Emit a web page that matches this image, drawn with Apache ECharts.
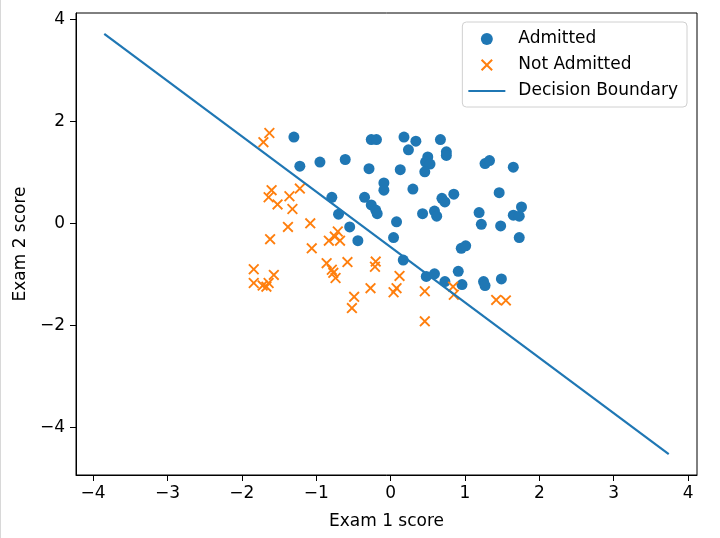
<!DOCTYPE html>
<html>
<head>
<meta charset="utf-8">
<script src="https://cdn.jsdelivr.net/npm/echarts@6/dist/echarts.min.js"></script>
<style>
html,body{margin:0;padding:0;background:#fff;}
#chart{width:720px;height:538px;}
</style>
</head>
<body>
<div id="chart"></div>
<script>
// Admitted (blue circles)
const admittedX = [-1.30,-0.26,-0.19,0.18,0.24,-1.22,-0.95,-0.61,-0.29,0.13,-0.09,-0.09,0.30,-0.79,-0.35,-0.26,-0.20,-0.18,-0.70,0.08,-0.55,0.04,-0.44,0.34,0.67,0.75,0.75,0.50,0.47,0.53,0.46,1.27,1.33,1.65,0.69,0.73,0.85,1.46,0.43,0.59,0.62,1.19,1.22,1.48,1.65,1.73,1.76,1.73,0.95,1.01,0.17,0.48,0.59,0.73,0.91,0.96,1.25,1.27,1.49];
const admittedY = [1.69,1.64,1.64,1.69,1.44,1.12,1.20,1.25,1.07,1.05,0.79,0.65,0.67,0.51,0.51,0.36,0.26,0.19,0.18,0.03,-0.07,-0.28,-0.34,1.61,1.64,1.40,1.33,1.30,1.20,1.16,1.01,1.17,1.23,1.10,0.49,0.42,0.57,0.60,0.19,0.24,0.14,0.21,-0.02,-0.05,0.16,0.14,0.32,-0.28,-0.49,-0.44,-0.72,-1.04,-0.99,-1.14,-0.94,-1.20,-1.14,-1.22,-1.09];
// Not admitted (orange crosses)
const rejectedX = [-1.63,-1.71,-1.22,-1.60,-1.64,-1.36,-1.52,-1.32,-1.08,-1.38,-1.62,-0.71,-0.75,-0.83,-0.68,-1.06,-1.84,-1.84,-1.72,-1.67,-1.64,-1.57,-0.86,-0.79,-0.77,-0.74,-0.58,-0.49,-0.52,-0.27,-0.20,-0.21,0.12,0.08,0.04,0.46,0.84,0.85,1.42,1.55,0.46];
const rejectedY = [1.77,1.59,0.68,0.65,0.51,0.53,0.37,0.28,0.00,-0.07,-0.31,-0.16,-0.26,-0.34,-0.34,-0.49,-0.90,-1.17,-1.22,-1.24,-1.17,-1.01,-0.78,-0.91,-0.97,-1.07,-0.76,-1.44,-1.66,-1.27,-0.75,-0.85,-1.03,-1.27,-1.35,-1.33,-1.24,-1.40,-1.50,-1.51,-1.92];
// Decision boundary endpoints
const boundaryX = [-3.85, 3.74];
const boundaryY = [3.71, -4.52];
// Tick labels
const xTicks = [-4,-3,-2,-1,0,1,2,3,4];
const yTicks = [-4,-2,0,2,4];

const zip = (a,b) => a.map((v,i)=>[v,b[i]]);
const fmt = v => String(v).replace('-', '\u2212');
const FONT = 'DejaVu Sans';
const crossPath = 'path://M1.2,0 L5,3.8 L8.8,0 L10,1.2 L6.2,5 L10,8.8 L8.8,10 L5,6.2 L1.2,10 L0,8.8 L3.8,5 L0,1.2 Z';
const linePath = 'path://M0,0 L37,0 L37,2.2 L0,2.2 Z';

const chart = echarts.init(document.getElementById('chart'), null, {renderer:'canvas'});
chart.setOption({
  backgroundColor:'#fff',
  animation:false,
  textStyle:{fontFamily:FONT},
  grid:{left:76,right:23,top:13,bottom:63,show:true,borderColor:'#000',borderWidth:1,backgroundColor:'#fff',containLabel:false,outerBoundsMode:'none'},
  xAxis:{
    type:'value',min:-4.23,max:4.12,
    name:'Exam 1 score',nameLocation:'middle',nameGap:38,
    nameTextStyle:{fontFamily:FONT,fontSize:17,color:'#000'},
    axisLine:{show:true,onZero:false,lineStyle:{color:'#000',width:1}},
    axisTick:{show:true,length:6,lineStyle:{color:'#000',width:1},customValues:xTicks},
    axisLabel:{fontFamily:FONT,fontSize:17,color:'#000',margin:10,formatter:fmt,customValues:xTicks},
    splitLine:{show:false}
  },
  yAxis:{
    type:'value',min:-4.93,max:4.12,
    name:'Exam 2 score',nameLocation:'middle',nameGap:46,
    nameTextStyle:{fontFamily:FONT,fontSize:17,color:'#000'},
    axisLine:{show:true,onZero:false,lineStyle:{color:'#000',width:1}},
    axisTick:{show:true,length:6,lineStyle:{color:'#000',width:1},customValues:yTicks},
    axisLabel:{fontFamily:FONT,fontSize:17,color:'#000',margin:11,formatter:fmt,customValues:yTicks},
    splitLine:{show:false}
  },
  legend:{
    orient:'vertical',right:33,top:22,
    itemWidth:37,itemHeight:12,itemGap:6,
    padding:[7,9,6,6],
    borderColor:'#d0d0d0',borderWidth:1,borderRadius:4,
    backgroundColor:'rgba(255,255,255,0.8)',
    symbolKeepAspect:true,
    textStyle:{fontFamily:FONT,fontSize:17,color:'#000',lineHeight:20,padding:[0,0,0,8]},
    data:[
      {name:'Admitted',icon:'circle'},
      {name:'Not Admitted',icon:crossPath},
      {name:'Decision Boundary',icon:linePath}
    ]
  },
  graphic:[{type:'line',shape:{x1:0.5,y1:0,x2:0.5,y2:538},style:{stroke:'#d8d8d8',lineWidth:1},silent:true}],
  series:[
    {name:'Admitted',type:'scatter',symbol:'circle',symbolSize:11,
     itemStyle:{color:'#1f77b4',opacity:1},data:zip(admittedX,admittedY),z:2},
    {name:'Not Admitted',type:'scatter',symbol:crossPath,symbolSize:11,symbolKeepAspect:true,
     itemStyle:{color:'#ff7f0e',opacity:1},data:zip(rejectedX,rejectedY),z:2},
    {name:'Decision Boundary',type:'line',symbol:'none',showSymbol:false,
     lineStyle:{color:'#1f77b4',width:2.2},itemStyle:{color:'#1f77b4'},
     data:zip(boundaryX,boundaryY),z:3}
  ]
});
</script>
</body>
</html>
